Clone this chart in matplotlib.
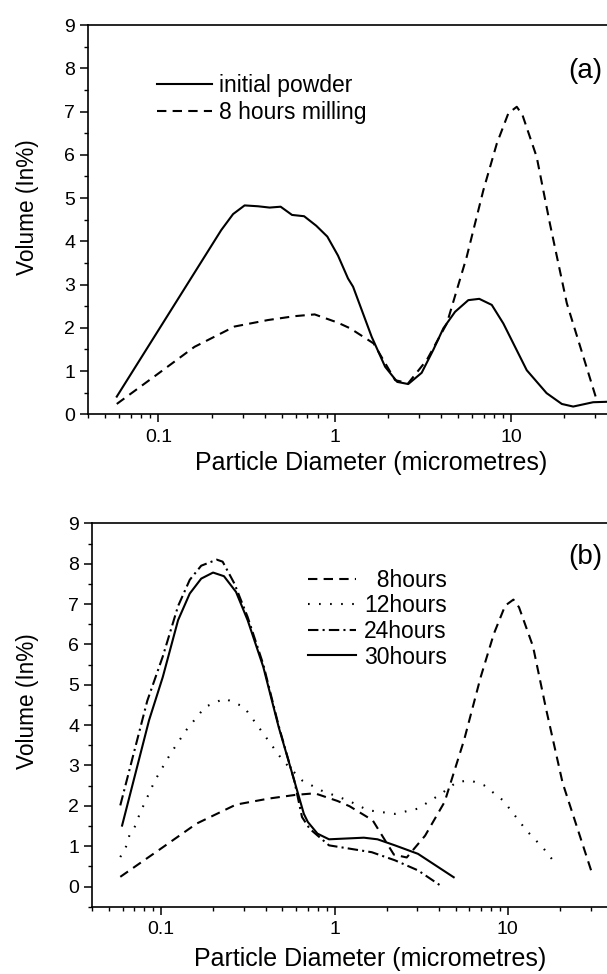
import matplotlib
matplotlib.use('Agg')
import matplotlib.pyplot as plt
from matplotlib import ticker

plt.rcParams['font.family'] = ['Liberation Sans', 'DejaVu Sans']

# Panel (a): initial powder vs 8 hours milling
initial_x = [0.058, 0.227, 0.265, 0.308, 0.367, 0.427, 0.493, 0.572, 0.670, 0.785,
             0.907, 1.043, 1.189, 1.27, 1.62, 1.93, 2.26, 2.61, 3.11, 3.62, 4.13,
             4.81, 5.72, 6.6, 7.77, 9.04, 12.27, 15.9, 19.4, 22.5, 29.2, 34.9]
initial_y = [0.41, 4.26, 4.63, 4.83, 4.81, 4.78, 4.80, 4.61, 4.58, 4.36,
             4.11, 3.67, 3.14, 2.95, 1.79, 1.10, 0.75, 0.70, 0.96, 1.49, 1.99,
             2.37, 2.64, 2.67, 2.53, 2.10, 1.02, 0.49, 0.24, 0.18, 0.28, 0.29]

milled8_x = [0.058, 0.0973, 0.160, 0.270, 0.418, 0.593, 0.769, 1.04, 1.22, 1.66,
             2.2, 2.61, 3.33, 4.32, 5.6, 6.96, 8.3, 9.65, 10.77, 11.6, 13.97,
             16.6, 20.7, 25.7, 30.6]
milled8_y = [0.24, 0.91, 1.56, 2.03, 2.18, 2.27, 2.31, 2.12, 1.99, 1.64,
             0.79, 0.72, 1.26, 2.10, 3.64, 5.18, 6.26, 6.96, 7.11, 6.92, 5.95,
             4.41, 2.57, 1.33, 0.33]

# Panel (b): milling time series
h12_x = [0.058, 0.0626, 0.0655, 0.071, 0.075, 0.092, 0.113, 0.139, 0.179, 0.232,
         0.300, 0.388, 0.501, 0.649, 0.838, 1.20, 1.56, 2.23, 3.03, 4.13, 5.07,
         6.08, 7.28, 9.41, 12.8, 16.1, 18.2]
h12_y = [0.73, 0.99, 1.27, 1.51, 1.80, 2.63, 3.29, 3.87, 4.45, 4.66,
         4.45, 3.79, 3.13, 2.63, 2.38, 2.13, 1.89, 1.80, 1.93, 2.30, 2.59,
         2.63, 2.51, 2.13, 1.39, 0.94, 0.65]

h24_x = [0.058, 0.083, 0.102, 0.125, 0.146, 0.170, 0.209, 0.226, 0.264, 0.315,
         0.388, 0.476, 0.585, 0.649, 0.719, 0.929, 1.64, 2.23, 3.03, 4.13]
h24_y = [2.01, 4.6, 5.7, 6.95, 7.6, 7.95, 8.1, 8.05, 7.51, 6.68,
         5.50, 3.98, 2.63, 1.72, 1.43, 1.02, 0.85, 0.65, 0.40, 0.01]

h30_x = [0.0594, 0.085, 0.102, 0.125, 0.146, 0.170, 0.199, 0.230, 0.270, 0.315,
         0.388, 0.476, 0.585, 0.665, 0.701, 0.797, 0.929, 1.476, 1.77, 2.23,
         3.03, 4.87]
h30_y = [1.51, 4.12, 5.19, 6.60, 7.26, 7.63, 7.78, 7.69, 7.30, 6.60,
         5.44, 3.95, 2.63, 1.80, 1.60, 1.31, 1.17, 1.21, 1.17, 1.02,
         0.81, 0.23]

x_ticks = [0.1, 1, 10]

dashed = (0, (4.5, 3))
dotted = (0, (0.8, 4.5))
dashdot = (0, (5, 2, 1, 2))
lw = 1.5

fig = plt.figure(figsize=(6.07, 9.74), dpi=100)
ax_a = fig.add_axes([0.1455, 0.5746, 0.9326, 0.3997])
ax_b = fig.add_axes([0.1521, 0.0691, 0.9166, 0.3936])


def style(ax, ymin):
    ax.set_xscale('log')
    ax.set_xlim(0.04, 65)
    ax.set_ylim(ymin, 9)
    ax.xaxis.set_major_locator(ticker.FixedLocator(x_ticks))
    ax.xaxis.set_major_formatter(ticker.FuncFormatter(lambda v, p: f'{v:g}'))
    ax.xaxis.set_minor_locator(ticker.LogLocator(base=10, subs=range(2, 10)))
    ax.xaxis.set_minor_formatter(ticker.NullFormatter())
    ax.yaxis.set_major_locator(ticker.MultipleLocator(1))
    ax.yaxis.set_minor_locator(ticker.MultipleLocator(0.5))
    ax.tick_params(which='major', direction='out', length=5.5, width=1.1,
                   labelsize=14, pad=4)
    ax.tick_params(which='minor', direction='out', length=3, width=1.0)
    ax.tick_params(axis='x', which='major', pad=5)
    for s in ax.spines.values():
        s.set_linewidth(1.2)
    ax.set_xlabel('Particle Diameter (micrometres)', fontsize=18)
    ax.set_ylabel('Volume (In%)', fontsize=16.3)


style(ax_a, 0)
ax_a.plot(initial_x, initial_y, color='black', lw=lw, label='initial powder')
ax_a.plot(milled8_x, milled8_y, color='black', lw=lw, linestyle=dashed,
          label='8 hours milling')
ax_a.legend(loc='upper left', bbox_to_anchor=(0.121, 0.873), frameon=False,
            fontsize=16.5, handlelength=2.4, handletextpad=0.3,
            labelspacing=0.17, borderpad=0, borderaxespad=0)
ax_a.xaxis.set_label_coords(0.5, -0.094)
ax_a.yaxis.set_label_coords(-0.087, 0.531)

style(ax_b, -0.5)
ax_b.plot(milled8_x, milled8_y, color='black', lw=lw, linestyle=dashed,
          label='  8hours')
ax_b.plot(h12_x, h12_y, color='black', lw=lw, linestyle=dotted, label='12hours')
ax_b.plot(h24_x, h24_y, color='black', lw=lw, linestyle=dashdot, label='24hours')
ax_b.plot(h30_x, h30_y, color='black', lw=lw, label='30hours')
ax_b.legend(loc='upper left', bbox_to_anchor=(0.3873, 0.881), frameon=False,
            fontsize=16.5, handlelength=2.1, handletextpad=0.35,
            labelspacing=0.11, borderpad=0, borderaxespad=0)
ax_b.xaxis.set_label_coords(0.5, -0.105)
ax_b.yaxis.set_label_coords(-0.0958, 0.535)

fig.text(568 / 607, 1 - 71 / 974, '(a)', fontsize=20, ha='left', va='center')
fig.text(568 / 607, 1 - 557 / 974, '(b)', fontsize=20, ha='left', va='center')

fig.savefig('out.png', dpi=100)
